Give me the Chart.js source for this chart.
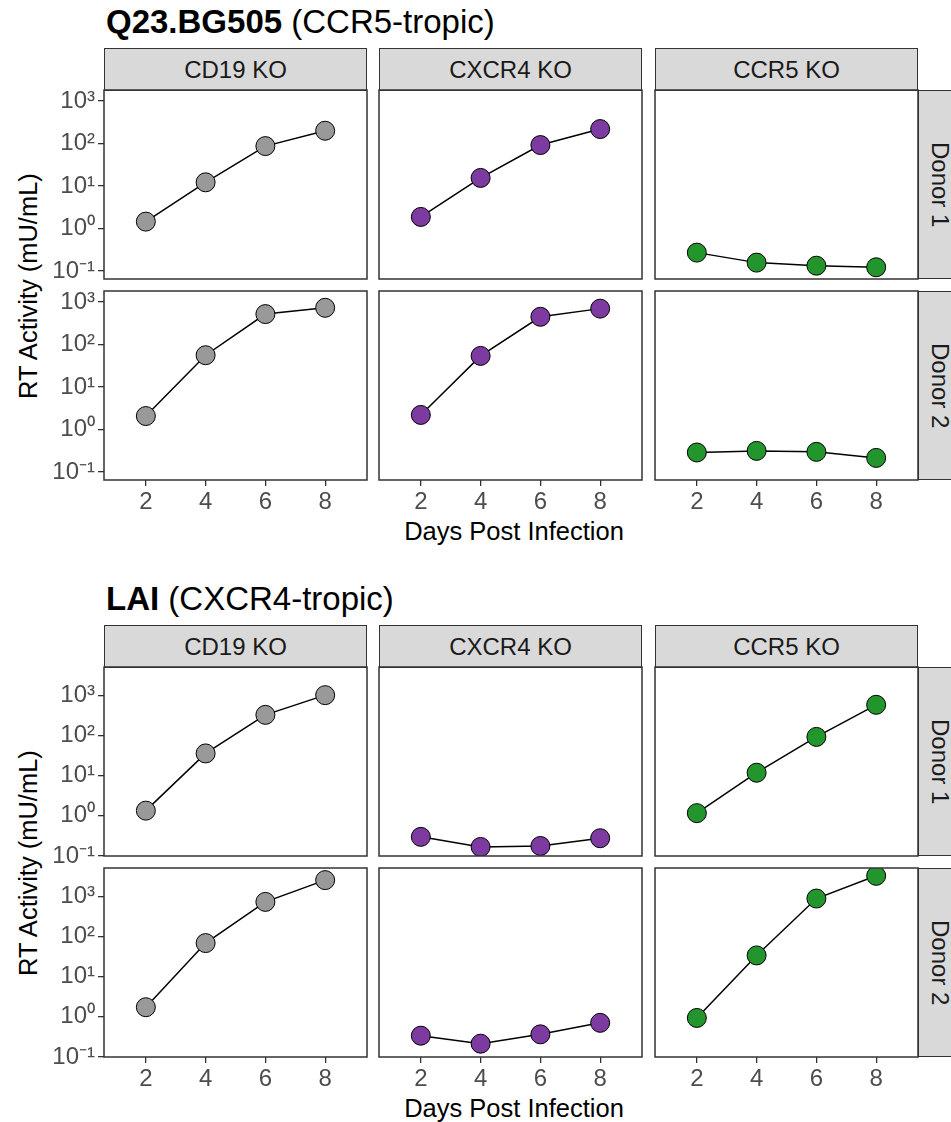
<!DOCTYPE html>
<html>
<head>
<meta charset="utf-8">
<script src="https://cdn.jsdelivr.net/npm/chart.js@4.4.1/dist/chart.umd.min.js"></script>
<style>
  body { margin: 0; background: #fff; }
  #page { position: relative; width: 951px; height: 1122px; overflow: hidden; background: #fff;
          font-family: "Liberation Sans", Arial, Helvetica, sans-serif; }
  .title { position: absolute; left: 106px; font-size: 33px; line-height: 33px; color: #000; white-space: nowrap; }
  .strip { position: absolute; box-sizing: border-box; background: #d9d9d9; border: 1.5px solid #333;
           color: #1a1a1a; font-size: 24px; display: flex; align-items: center; justify-content: center; }
  .vstrip { writing-mode: vertical-rl; }
  .ytitle { position: absolute; font-size: 25.5px; white-space: nowrap; color: #000;
            transform: translate(-50%, -50%) rotate(-90deg); }
  .xtitle { position: absolute; font-size: 25.5px; white-space: nowrap; color: #000;
            transform: translate(-50%, -50%); }
  canvas { position: absolute; }
</style>
</head>
<body>
<div id="page"></div>
<script>
// x values, facets and tick labels
const days = [2, 4, 6, 8];
const knockouts = ['CD19 KO', 'CXCR4 KO', 'CCR5 KO'];
const donors = ['Donor 1', 'Donor 2'];
const koColors = ['#999999', '#7d3aa0', '#22962c'];
const yTicks = [0.1, 1, 10, 100, 1000];
const yTickLabels = ['10\u207B\u00B9', '10\u2070', '10\u00B9', '10\u00B2', '10\u00B3'];

// Q23.BG505 (CCR5-tropic), RT activity mU/mL
const q23Cd19Donor1 = [1.45, 12.2, 87, 200];
const q23Cxcr4Donor1 = [1.87, 15.5, 92, 219];
const q23Ccr5Donor1 = [0.27, 0.157, 0.133, 0.122];
const q23Cd19Donor2 = [2.07, 56, 521, 733];
const q23Cxcr4Donor2 = [2.2, 54, 450, 700];
const q23Ccr5Donor2 = [0.287, 0.313, 0.297, 0.214];

// LAI (CXCR4-tropic)
const laiCd19Donor1 = [1.35, 36, 329, 1020];
const laiCxcr4Donor1 = [0.30, 0.168, 0.178, 0.277];
const laiCcr5Donor1 = [1.17, 11.9, 93, 586];
const laiCd19Donor2 = [1.74, 69, 733, 2560];
const laiCxcr4Donor2 = [0.34, 0.215, 0.367, 0.71];
const laiCcr5Donor2 = [0.94, 34, 890, 3275];

const q23YRange = [0.0646, 1820];
const laiYRange = [0.1, 5130];

const figures = [
  { bold: 'Q23.BG505', rest: ' (CCR5-tropic)', offset: 0, yRange: q23YRange,
    rows: [[q23Cd19Donor1, q23Cxcr4Donor1, q23Ccr5Donor1], [q23Cd19Donor2, q23Cxcr4Donor2, q23Ccr5Donor2]] },
  { bold: 'LAI', rest: ' (CXCR4-tropic)', offset: 577, yRange: laiYRange,
    rows: [[laiCd19Donor1, laiCxcr4Donor1, laiCcr5Donor1], [laiCd19Donor2, laiCxcr4Donor2, laiCcr5Donor2]] }
];

// layout (px)
const colLeft = [104, 379, 655];
const colW = 263;
const stripTop = 48, stripH = 42;
const rowTop = [90, 291];
const rowH = 189;
const FONT = '"Liberation Sans", Arial, Helvetica, sans-serif';

const page = document.getElementById('page');

function addDiv(cls, html, style) {
  const d = document.createElement('div');
  d.className = cls;
  d.innerHTML = html;
  Object.assign(d.style, style);
  page.appendChild(d);
  return d;
}

// panel outline on top of the points
const panelBorder = {
  id: 'panelBorder',
  afterDatasetsDraw(chart) {
    const { ctx, chartArea: a } = chart;
    ctx.save();
    ctx.strokeStyle = '#333';
    ctx.lineWidth = 1.5;
    ctx.strokeRect(a.left, a.top, a.right - a.left, a.bottom - a.top);
    ctx.restore();
  }
};

figures.forEach(fig => {
  const o = fig.offset;
  addDiv('title', '<b>' + fig.bold + '</b>' + fig.rest, { top: (o + 5) + 'px' });

  knockouts.forEach((ko, c) => {
    addDiv('strip', ko, { left: colLeft[c] + 'px', top: (o + stripTop) + 'px',
      width: colW + 'px', height: (stripH + 1) + 'px' });
  });
  donors.forEach((dn, r) => {
    addDiv('strip vstrip', dn, { left: (colLeft[2] + colW) + 'px', top: (o + rowTop[r]) + 'px',
      width: '44px', height: rowH + 'px' });
  });

  addDiv('ytitle', 'RT Activity (mU/mL)', { left: '28px', top: (o + 286) + 'px' });
  addDiv('xtitle', 'Days Post Infection', { left: '514px', top: (o + 531) + 'px' });

  fig.rows.forEach((row, r) => {
    row.forEach((vals, c) => {
      const isLeft = c === 0, isBottom = r === 1;
      const L = isLeft ? 100 : 20, B = isBottom ? 60 : 20, T = 20, R = 20;
      const cv = document.createElement('canvas');
      const w = colW + L + R, h = rowH + T + B;
      cv.width = w; cv.height = h;
      cv.style.left = (colLeft[c] - L) + 'px';
      cv.style.top = (o + rowTop[r] - T) + 'px';
      cv.style.width = w + 'px'; cv.style.height = h + 'px';
      page.appendChild(cv);

      new Chart(cv, {
        type: 'line',
        data: {
          datasets: [{
            data: days.map((d, i) => ({ x: d, y: vals[i] })),
            borderColor: '#000',
            borderWidth: 1.5,
            tension: 0,
            pointRadius: 9.5,
            pointBackgroundColor: koColors[c],
            pointBorderColor: '#000',
            pointBorderWidth: 1
          }]
        },
        options: {
          responsive: false,
          animation: false,
          events: [],
          layout: { autoPadding: false,
                    padding: { top: T, right: R, left: isLeft ? 0 : L, bottom: isBottom ? 0 : B } },
          plugins: { legend: { display: false }, tooltip: { enabled: false } },
          scales: {
            x: {
              type: 'linear', min: 0.6, max: 9.4, display: isBottom,
              afterBuildTicks: s => { s.ticks = days.map(v => ({ value: v })); },
              afterFit: s => { s.height = isBottom ? B : 0; },
              border: { display: false },
              grid: { drawOnChartArea: false, drawTicks: true, tickLength: 6, color: '#333', lineWidth: 1.3 },
              ticks: { color: '#4d4d4d', font: { family: FONT, size: 24 }, padding: 2, maxRotation: 0, autoSkip: false }
            },
            y: {
              type: 'logarithmic', min: fig.yRange[0], max: fig.yRange[1], display: isLeft,
              afterBuildTicks: s => { s.ticks = yTicks.map(v => ({ value: v })); },
              afterFit: s => { s.width = isLeft ? L : 0; },
              border: { display: false },
              grid: { drawOnChartArea: false, drawTicks: true, tickLength: 6, color: '#333', lineWidth: 1.3 },
              ticks: { color: '#4d4d4d', font: { family: FONT, size: 24 }, padding: 3, autoSkip: false,
                       callback: (v, i) => yTickLabels[i] }
            }
          }
        },
        plugins: [panelBorder]
      });
    });
  });
});
</script>
</body>
</html>
